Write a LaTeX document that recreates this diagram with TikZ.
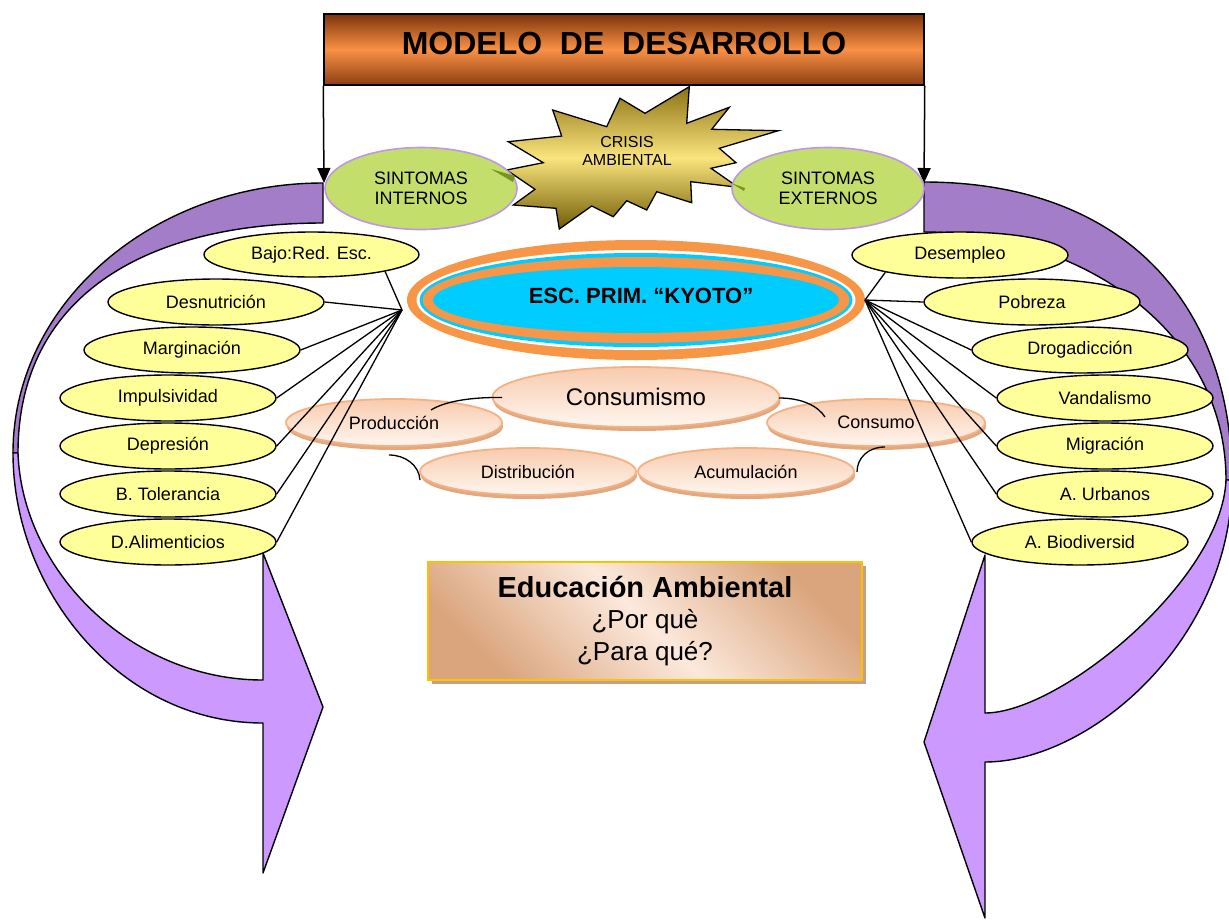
\documentclass[tikz,border=0pt]{standalone}
\usepackage{fontspec}
\setmainfont{Liberation Sans}
\usetikzlibrary{shapes.geometric,shadows,arrows.meta}
\definecolor{yelF}{RGB}{255,255,153}
\definecolor{grnF}{RGB}{196,222,108}
\definecolor{grnB}{RGB}{190,150,230}
\definecolor{purD}{RGB}{164,125,201}
\definecolor{purL}{RGB}{204,153,255}
\definecolor{kyOr}{RGB}{247,150,70}
\definecolor{kyCy}{RGB}{0,204,255}
\definecolor{tTop}{RGB}{125,52,10}
\definecolor{tMid}{RGB}{250,145,70}
\definecolor{tBot}{RGB}{140,62,16}
\definecolor{stTop}{RGB}{140,115,20}
\definecolor{stMid}{RGB}{250,228,125}
\definecolor{stBot}{RGB}{112,92,5}
\definecolor{olv}{RGB}{120,150,30}
\definecolor{peachT}{RGB}{248,203,173}
\definecolor{peachW}{RGB}{255,246,240}
\definecolor{peachB}{RGB}{244,177,131}
\definecolor{peachS}{RGB}{226,168,128}
\definecolor{eduT}{RGB}{218,165,125}
\definecolor{eduL}{RGB}{252,233,220}
\definecolor{eduB}{RGB}{255,192,0}
\definecolor{eduS}{RGB}{190,162,142}
\begin{document}
\begin{tikzpicture}[x=1pt,y=-1pt,
  yel/.style={ellipse,draw=black,line width=1.4pt,fill=yelF,minimum width=216pt,minimum height=46pt,inner sep=0pt,font=\fontsize{18}{20}\selectfont},
  grn/.style={ellipse,draw=grnB,line width=1.6pt,fill=grnF,minimum width=192pt,minimum height=82pt,inner sep=0pt,align=center,font=\fontsize{18}{19.5}\selectfont},
  peach/.style={ellipse,draw=peachB,line width=1.8pt,top color=peachT,bottom color=peachW,minimum width=216pt,minimum height=47pt,inner sep=0pt,font=\fontsize{18}{20}\selectfont,drop shadow={shadow xshift=1pt,shadow yshift=-4pt,fill=peachS,opacity=1}},
  hub/.style={draw=black,line width=1.3pt},
  curv/.style={draw=black,line width=1.3pt},
  band/.style={draw=black,line width=1.4pt,line join=round}
]
\useasboundingbox (0,0) rectangle (1229,919);

% purple curved arrows
\path[band,fill=purD] (323,183) .. controls (152,183) and (13,304) .. (13,453) -- (18,453) .. controls (18,300) and (140,223) .. (323,223) -- cycle;
\path[band,fill=purL] (13,453) .. controls (13,590) and (120,723) .. (263,723) -- (263,873) -- (323,707) -- (263,553) -- (263,680) .. controls (130,680) and (22,570) .. (18,453) -- cycle;
\path[band,fill=purD] (924,182) .. controls (1120,182) and (1232,300) .. (1232,480) -- (1226,480) .. controls (1226,330) and (1080,232) .. (924,232) -- cycle;
\path[band,fill=purL] (1232,480) .. controls (1232,640) and (1090,762) .. (985,762) -- (985,918) -- (924,742) -- (985,555) -- (985,713) .. controls (1060,713) and (1222,580) .. (1226,480) -- cycle;

% title
\node (title) [draw=black,line width=1.5pt,minimum width=600pt,minimum height=71pt,inner sep=0pt,top color=tTop,bottom color=tBot,middle color=tMid,font=\fontsize{32}{36}\selectfont\bfseries] at (624,49.5) {\raisebox{6pt}[\height][\depth]{MODELO\ \ DE\ \ DESARROLLO}};
\coordinate (tipL) at (324,183);
\coordinate (tipR) at (924,183);
\draw[line width=1.5pt,-{Triangle[length=15pt,width=13pt]}] (title.south west) -- (tipL);
\draw[line width=1.5pt,-{Triangle[length=15pt,width=13pt]}] (title.south east) -- (tipR);

% star
\path[draw=black,line width=1.3pt,line join=miter,top color=stTop,bottom color=stBot,middle color=stMid]
 (689.3,86.7) -- (686.7,123.3) -- (729.3,107.3) -- (711.7,129.3) -- (778.3,130.7) -- (719.3,148.3) -- (736,162.7) -- (711,168.3) -- (738.3,187.3) -- (690.7,181.7) -- (691.7,202.7) -- (656.7,191.7) -- (646.7,210) -- (626.7,200.7) -- (613.3,216.7) -- (591.7,206) -- (559.3,229) -- (556,208.3) -- (513.3,205) -- (535,189.3) -- (506.7,170) -- (543.3,162.7) -- (508.3,141.7) -- (561.7,136) -- (552.7,110) -- (606.7,126.7) -- (620,98.3) -- (645,113.3) -- cycle;
\node (crisis) [align=center,font=\fontsize{16}{18}\selectfont] at (627,151) {CRISIS\\AMBIENTAL};

% sintomas
\node (sint) [grn] at (421,188.5) {SINTOMAS\\INTERNOS};
\node (sext) [grn] at (828,188.5) {SINTOMAS\\EXTERNOS};
\fill[olv] (491,169) -- (515,176) -- (513,182) -- cycle;
\fill[olv] (731,183) -- (745,188) -- (744,191) -- cycle;

% Kyoto
\fill[kyOr] (636,300) ellipse [x radius=229,y radius=60];
\fill[white] (636,300) ellipse [x radius=219.5,y radius=50];
\fill[kyCy] (636,300) ellipse [x radius=216.5,y radius=47];
\fill[kyOr] (636,300) ellipse [x radius=213.5,y radius=43];
\fill[kyCy] (636,300) ellipse [x radius=203,y radius=33];
\node (kyoto) [font=\fontsize{22}{24}\selectfont\bfseries] at (641,295.5) {ESC. PRIM. “KYOTO”};

% peach cluster
\node (prod) [peach] at (394,422.5) {Producción};
\node (cons) [peach,minimum width=218pt] at (876,422.5) {Consumo};
\node (dist) [peach] at (528,471.5) {Distribución};
\node (acum) [peach] at (746,471.5) {Acumulación};
\node (cmsm) [peach,minimum width=287pt,minimum height=60pt,font=\fontsize{24}{26}\selectfont] at (636,397) {Consumismo};
\coordinate (c1a) at (502,397.5); \coordinate (c1b) at (431,410);
\coordinate (c2a) at (779,398); \coordinate (c2b) at (825,417);
\coordinate (c3a) at (389,455); \coordinate (c3b) at (420,480);
\coordinate (c4a) at (857,472); \coordinate (c4b) at (885,447);
\draw[curv] (c1a) .. controls (465,397) and (442,403) .. (c1b);
\draw[curv] (c2a) .. controls (802,398) and (818,406) .. (c2b);
\draw[curv] (c3a) .. controls (405,455) and (419,465) .. (c3b);
\draw[curv] (c4a) .. controls (857,458) and (868,447) .. (c4b);

% left ellipses
\node (bajo) [yel,minimum width=215pt,minimum height=45pt] at (311.5,254.5) {Bajo:Red. Esc.};
\node (desnut) [yel] at (216,302) {Desnutrición};
\node (margin) [yel] at (192,350) {Marginación};
\node (impuls) [yel] at (168,398) {Impulsividad};
\node (depres) [yel] at (168,446) {Depresión};
\node (toler) [yel] at (168,494) {B. Tolerancia};
\node (alim) [yel] at (168,542) {D.Alimenticios};

% right ellipses
\node (desemp) [yel] at (960,255) {Desempleo};
\node (pobreza) [yel] at (1032,302) {Pobreza};
\node (droga) [yel] at (1080,350) {Drogadicción};
\node (vandal) [yel] at (1105,398) {Vandalismo};
\node (migra) [yel] at (1105,446) {Migración};
\node (urban) [yel] at (1105,494) {A. Urbanos};
\node (biodiv) [yel] at (1080,542) {A. Biodiversid};

% hub lines
\coordinate (hubL) at (402,310);
\coordinate (hubR) at (865,300);
\draw[hub] (hubL) -- (bajo.-13);
\foreach \n in {desnut,margin,impuls,depres,toler,alim} \draw[hub] (hubL) -- (\n.east);
\draw[hub] (hubR) -- (desemp.-167);
\foreach \n in {pobreza,droga,vandal,migra,urban,biodiv} \draw[hub] (hubR) -- (\n.west);

% education box
\node (edu) [rectangle,draw=eduB,line width=2pt,minimum width=434pt,minimum height=118pt,inner sep=0pt,align=center,left color=eduT,right color=eduT,middle color=eduL,shading angle=135,drop shadow={shadow xshift=4pt,shadow yshift=-4pt,fill=eduS,opacity=1},font=\fontsize{26}{31.5}\selectfont] at (645,621)
 {{\fontsize{29}{32}\selectfont\bfseries Educación Ambiental}\\{\fontsize{26}{31.5}\selectfont ¿Por què}\\{\fontsize{26}{31.5}\selectfont ¿Para qué?}};
\end{tikzpicture}
\end{document}
